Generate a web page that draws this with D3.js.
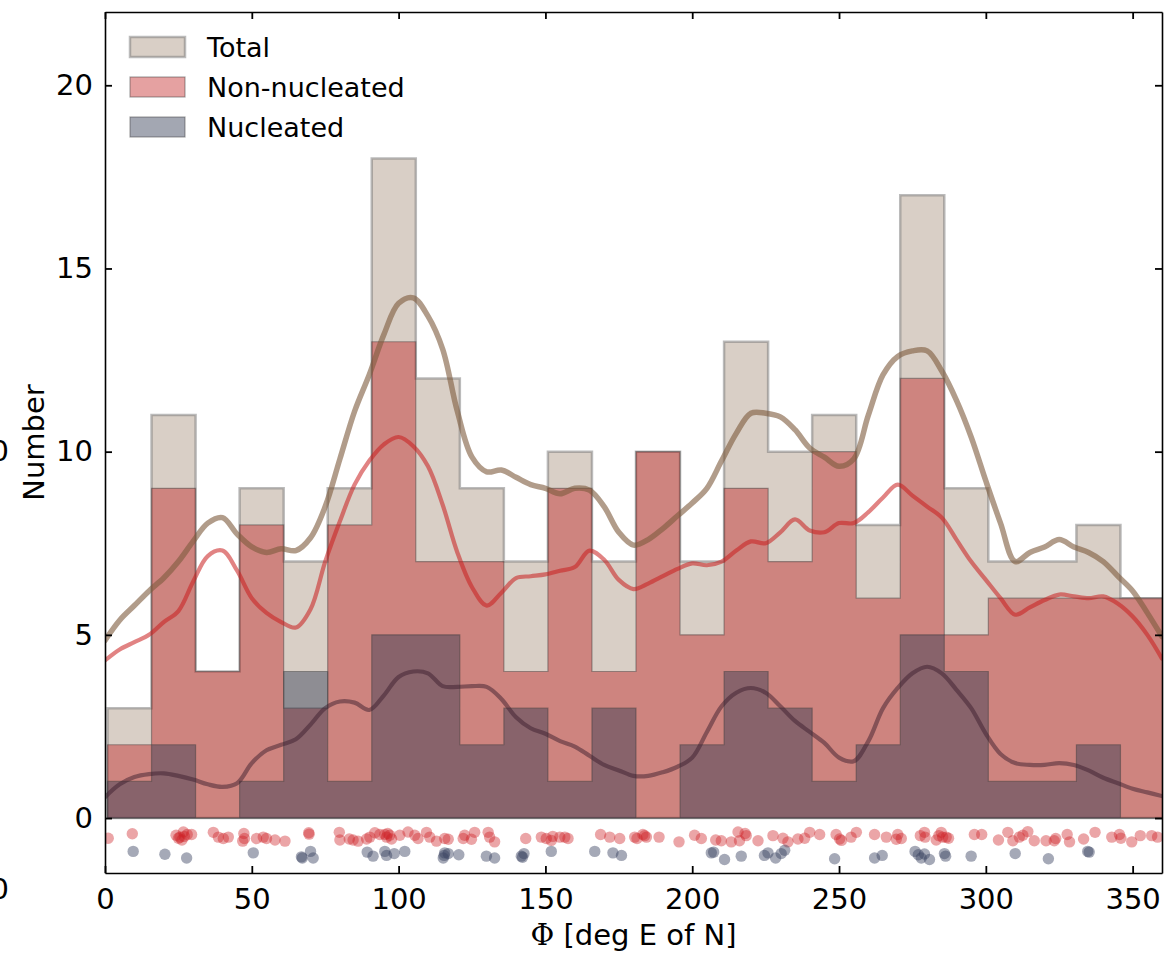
<!DOCTYPE html>
<html>
<head>
<meta charset="utf-8">
<script src="https://cdn.jsdelivr.net/npm/d3@7"></script>
<style>
  body { margin: 0; background: #fff; }
  svg { display: block; }
  text { font-family: "DejaVu Sans", sans-serif; fill: #000; }
</style>
</head>
<body>
<svg id="chart" width="1167" height="957"></svg>
<script>
// ---- histogram counts, 15-degree bins ----
const binStarts = [0.85, 15.85, 30.85, 45.85, 60.85, 75.85, 90.85, 105.85, 120.85, 135.85, 150.85, 165.85,
                   180.85, 195.85, 210.85, 225.85, 240.85, 255.85, 270.85, 285.85, 300.85, 315.85, 330.85, 345.85];
const binWidth = 15;
const totalCounts   = [3, 11, 4, 9, 7, 9, 18, 12, 9, 7, 10, 7, 10, 7, 13, 10, 11, 8, 17, 9, 7, 7, 8, 6];
const nonNucCounts  = [2, 9, 4, 8, 3, 8, 13, 7, 7, 4, 9, 4, 10, 5, 9, 7, 10, 6, 12, 5, 6, 6, 6, 6];
const nucCounts     = [1, 2, 0, 1, 4, 1, 5, 5, 2, 3, 1, 3, 0, 2, 4, 3, 1, 2, 5, 4, 1, 1, 2, 0];

// ---- smoothed density curves (in counts per bin), sampled every 5 degrees ----
const curvePhi = [0, 5, 10, 15, 20, 25, 30, 35, 40, 45, 50, 55, 60, 65, 70, 75, 80, 85, 90, 95,
  100, 105, 110, 115, 120, 125, 130, 135, 140, 145, 150, 155, 160, 165, 170, 175, 180, 185, 190, 195,
  200, 205, 210, 215, 220, 225, 230, 235, 240, 245, 250, 255, 260, 265, 270, 275, 280, 285, 290, 295,
  300, 305, 310, 315, 320, 325, 330, 335, 340, 345, 350, 355, 360];
const totalCurve = [4.85, 5.4, 5.8, 6.2, 6.55, 7.0, 7.55, 8.05, 8.2, 7.75,
  7.4, 7.25, 7.35, 7.3, 7.65, 8.5, 9.8, 11.1, 12.1, 13.2,
  14.05, 14.2, 13.7, 12.8, 11.1, 9.85, 9.45, 9.5, 9.3, 9.1,
  9.0, 8.85, 9.0, 8.95, 8.5, 7.8, 7.45, 7.6, 7.9, 8.25,
  8.6, 9.0, 9.75, 10.5, 11.05, 11.05, 10.95, 10.6, 10.1, 9.85,
  9.6, 9.8, 11.0, 12.1, 12.6, 12.75, 12.75, 12.2, 11.4, 10.4,
  9.2, 8.05, 7.0, 7.25, 7.4, 7.6, 7.4, 7.25, 7.0, 6.6,
  6.2, 5.6, 4.95];
const nonNucCurve = [4.3, 4.6, 4.8, 5.0, 5.35, 5.65, 6.45, 7.15, 7.3, 6.75,
  6.0, 5.6, 5.35, 5.2, 5.7, 7.0, 8.1, 9.1, 9.75, 10.2,
  10.4, 10.15, 9.6, 8.55, 7.25, 6.3, 5.8, 6.15, 6.55, 6.6,
  6.65, 6.75, 6.85, 7.3, 7.05, 6.5, 6.25, 6.4, 6.6, 6.8,
  6.95, 6.9, 7.0, 7.3, 7.55, 7.5, 7.8, 8.15, 7.85, 7.8,
  8.05, 8.05, 8.35, 8.75, 9.1, 8.8, 8.5, 8.2, 7.6, 7.0,
  6.5, 6.0, 5.55, 5.75, 5.95, 6.1, 6.05, 6.0, 6.05, 5.85,
  5.5, 5.0, 4.35];
const nucCurve = [0.57, 0.92, 1.12, 1.2, 1.22, 1.15, 1.05, 0.92, 0.85, 0.95,
  1.5, 1.85, 2.0, 2.15, 2.55, 3.0, 3.18, 3.15, 2.95, 3.35,
  3.85, 4.0, 3.95, 3.6, 3.58, 3.6, 3.58, 3.25, 2.75, 2.45,
  2.3, 2.1, 1.95, 1.7, 1.45, 1.3, 1.15, 1.15, 1.25, 1.4,
  1.65, 2.35, 3.05, 3.42, 3.55, 3.42, 3.05, 2.65, 2.35, 2.05,
  1.65, 1.55, 2.1, 3.0, 3.55, 3.95, 4.13, 3.95, 3.5, 3.0,
  2.3, 1.75, 1.5, 1.45, 1.45, 1.5, 1.45, 1.3, 1.1, 0.95,
  0.8, 0.7, 0.6];

// ---- individual position angles, [phi, vertical jitter] ----
const nonNucPoints = [
  [1.1,-0.55],[9.3,-0.43],[24.2,-0.47],[25.5,-0.52],[26.7,-0.38],[26.2,-0.6],[28.0,-0.45],[29.5,-0.45],[25.0,-0.55],[27.0,-0.5],
  [36.9,-0.39],[38.6,-0.52],[40.3,-0.56],[42.0,-0.52],[47.3,-0.42],[46.9,-0.63],[47.5,-0.56],[51.6,-0.56],[53.9,-0.52],[55.0,-0.56],
  [57.9,-0.6],[61.3,-0.63],[69.4,-0.4],[69.5,-0.44],[79.8,-0.39],[80.0,-0.6],[83.2,-0.57],[84.5,-0.6],[86.2,-0.63],[89.1,-0.57],
  [90.2,-0.52],[91.9,-0.4],[93.6,-0.45],[95.3,-0.45],[95.9,-0.52],[96.3,-0.42],[97.0,-0.47],[97.6,-0.57],[100.4,-0.47],[103.2,-0.38],
  [105.5,-0.47],[106.6,-0.56],[109.5,-0.39],[110.6,-0.52],[112.9,-0.63],[115.7,-0.56],[116.9,-0.58],[122.0,-0.56],[122.5,-0.47],[124.8,-0.58],
  [125.9,-0.39],[130.5,-0.39],[131.0,-0.52],[132.7,-0.65],[143.3,-0.56],[148.6,-0.52],[150.3,-0.56],[152.0,-0.61],[152.5,-0.5],[154.9,-0.52],
  [156.6,-0.52],[157.7,-0.56],[168.8,-0.45],[171.9,-0.52],[175.3,-0.56],
  [180.4,-0.52],[181.2,-0.56],[183.2,-0.45],[184.4,-0.52],[183.8,-0.48],[188.7,-0.52],[195.5,-0.65],[200.8,-0.47],[203.1,-0.56],[208.0,-0.6],
  [209.9,-0.62],[213.3,-0.65],[215.6,-0.38],[216.1,-0.62],[218.4,-0.48],[218.0,-0.42],[222.4,-0.62],[227.5,-0.48],[230.9,-0.55],[232.6,-0.65],
  [236.0,-0.57],[238.3,-0.55],[240.0,-0.39],[243.4,-0.45],[249.0,-0.45],[250.2,-0.57],[250.8,-0.61],[254.1,-0.52],[255.9,-0.39],[262.1,-0.45],
  [266.1,-0.52],[269.5,-0.58],
  [270.0,-0.45],[271.2,-0.56],[277.7,-0.48],[279.1,-0.39],[279.3,-0.52],[283.1,-0.6],[284.8,-0.39],[285.3,-0.52],[286.5,-0.52],[287.3,-0.55],
  [284.0,-0.48],[296.1,-0.45],[298.6,-0.45],[304.3,-0.6],[307.5,-0.39],[309.2,-0.62],[311.4,-0.52],[312.6,-0.47],[314.3,-0.37],[316.5,-0.62],
  [320.5,-0.62],[323.3,-0.62],[323.8,-0.56],[327.7,-0.45],[328.5,-0.65],[333.3,-0.57],[337.2,-0.39],[342.9,-0.52],[345.5,-0.45],[346.0,-0.55],
  [349.7,-0.65],[352.6,-0.48],[356.5,-0.48],[358.5,-0.52]
];
const nucPoints = [
  [9.6,-0.91],[20.4,-0.99],[27.8,-1.09],[50.5,-0.95],[66.9,-1.06],[67.2,-1.09],[70.0,-0.91],[70.9,-1.09],[89.3,-0.93],[91.3,-1.04],
  [95.3,-0.91],[95.9,-1.02],[98.5,-0.97],[102.1,-0.91],[115.2,-1.09],[115.5,-1.02],[115.7,-0.95],[116.9,-0.97],[120.5,-1.0],[129.9,-1.04],
  [132.7,-1.09],[141.8,-1.04],[142.7,-0.97],[142.2,-1.07],[152.0,-0.91],[166.8,-0.91],[173.0,-0.95],[175.9,-1.02],[206.5,-0.95],[207.3,-0.93],
  [211.0,-1.13],[216.7,-1.04],[224.6,-1.02],[225.8,-0.95],[228.4,-1.09],[230.3,-0.97],[231.5,-0.88],[248.5,-1.11],[262.1,-1.09],[264.7,-1.02],
  [275.9,-0.91],[278.0,-1.09],[279.1,-0.98],[280.8,-1.13],[277.0,-1.0],[285.9,-0.97],[286.3,-1.04],[295.0,-1.04],[310.0,-0.97],[321.3,-1.11],
  [334.7,-0.91],[335.2,-0.93]
];

// ---- axis ticks and labels ----
const xTicks = [0, 50, 100, 150, 200, 250, 300, 350];
const yTicks = [0, 5, 10, 15, 20];
const legendLabels = ["Total", "Non-nucleated", "Nucleated"];

// ---- layout ----
const plot = { left: 105, right: 1162, top: 12, bottom: 873 };
const svg = d3.select("#chart");

const x = d3.scaleLinear().domain([0, 360]).range([plot.left, plot.right]);
const y = d3.scaleLinear().domain([-1.5, 22]).range([plot.bottom, plot.top]);

svg.append("defs").append("clipPath").attr("id", "plotClip")
  .append("rect")
  .attr("x", plot.left).attr("y", plot.top)
  .attr("width", plot.right - plot.left).attr("height", plot.bottom - plot.top);

const styles = {
  total:  { fill: "rgb(217,207,198)", fillOpacity: 1,    stroke: "rgba(120,120,120,0.5)", strokeWidth: 2.5 },
  nonNuc: { fill: "rgb(190,20,20)",   fillOpacity: 0.4,  stroke: "rgba(60,60,60,0.45)",   strokeWidth: 1.2 },
  nuc:    { fill: "rgb(50,60,85)",    fillOpacity: 0.45, stroke: "rgba(60,60,60,0.45)",   strokeWidth: 1.2 }
};

const g = svg.append("g").attr("clip-path", "url(#plotClip)");

// step-filled histograms
const stepArea = d3.area()
  .curve(d3.curveStepAfter)
  .x(d => x(d[0]))
  .y0(y(0))
  .y1(d => y(d[1]));

function histPoints(counts) {
  const pts = counts.map((c, i) => [binStarts[i], c]);
  pts.push([binStarts[binStarts.length - 1] + binWidth, counts[counts.length - 1]]);
  return pts;
}

[[totalCounts, styles.total], [nonNucCounts, styles.nonNuc], [nucCounts, styles.nuc]].forEach(([counts, s]) => {
  g.append("path")
    .attr("d", stepArea(histPoints(counts)))
    .attr("fill", s.fill)
    .attr("fill-opacity", s.fillOpacity)
    .attr("stroke", s.stroke)
    .attr("stroke-width", s.strokeWidth)
    .attr("stroke-linejoin", "miter");
});

// smoothed curves
const line = d3.line()
  .curve(d3.curveCatmullRom.alpha(0.5))
  .x((d, i) => x(curvePhi[i]))
  .y(d => y(d));

g.append("path").datum(totalCurve).attr("d", line)
  .attr("fill", "none").attr("stroke", "rgb(125,90,60)").attr("stroke-opacity", 0.6)
  .attr("stroke-width", 5.5).attr("stroke-linejoin", "round").attr("stroke-linecap", "round");
g.append("path").datum(nonNucCurve).attr("d", line)
  .attr("fill", "none").attr("stroke", "rgb(200,30,30)").attr("stroke-opacity", 0.55)
  .attr("stroke-width", 4.2).attr("stroke-linejoin", "round").attr("stroke-linecap", "round");
g.append("path").datum(nucCurve).attr("d", line)
  .attr("fill", "none").attr("stroke", "rgb(60,30,45)").attr("stroke-opacity", 0.5)
  .attr("stroke-width", 4.2).attr("stroke-linejoin", "round").attr("stroke-linecap", "round");

// individual angles as a rug of dots below zero
g.append("g").selectAll("circle").data(nonNucPoints).join("circle")
  .attr("cx", d => x(d[0])).attr("cy", d => y(d[1])).attr("r", 5.7)
  .attr("fill", "rgb(205,30,35)").attr("fill-opacity", 0.4);
g.append("g").selectAll("circle").data(nucPoints).join("circle")
  .attr("cx", d => x(d[0])).attr("cy", d => y(d[1])).attr("r", 5.7)
  .attr("fill", "rgb(55,65,95)").attr("fill-opacity", 0.45);

// axes with inward ticks on all four sides
function styleAxis(sel) {
  sel.select(".domain").attr("stroke", "#000").attr("stroke-width", 1.6);
  sel.selectAll(".tick line").attr("stroke", "#000").attr("stroke-width", 1.8);
  sel.selectAll(".tick text").style("font-family", '"DejaVu Sans", sans-serif').style("font-size", "29px").attr("fill", "#000");
}

svg.append("g").attr("transform", `translate(0,${plot.bottom})`)
  .call(d3.axisBottom(x).tickValues(xTicks).tickSizeInner(-7).tickSizeOuter(0).tickPadding(15).tickFormat(d3.format("d")))
  .call(styleAxis);
svg.append("g").attr("transform", `translate(0,${plot.top})`)
  .call(d3.axisTop(x).tickValues(xTicks).tickSizeInner(-7).tickSizeOuter(0).tickFormat(""))
  .call(styleAxis);
svg.append("g").attr("transform", `translate(${plot.left},0)`)
  .call(d3.axisLeft(y).tickValues(yTicks).tickSizeInner(-7).tickSizeOuter(0).tickPadding(12).tickFormat(d3.format("d")))
  .call(styleAxis);
svg.append("g").attr("transform", `translate(${plot.right},0)`)
  .call(d3.axisRight(y).tickValues(yTicks).tickSizeInner(-7).tickSizeOuter(0).tickFormat(""))
  .call(styleAxis);

// axis titles
const xTitle = svg.append("text")
  .attr("x", (plot.left + plot.right) / 2).attr("y", 945)
  .attr("text-anchor", "middle").style("font-size", "29px");
xTitle.append("tspan").style("font-family", '"DejaVu Serif", serif').text("Φ");
xTitle.append("tspan").text(" [deg E of N]");

svg.append("text")
  .attr("transform", `translate(44,${(plot.top + plot.bottom) / 2}) rotate(-90)`)
  .attr("text-anchor", "middle").style("font-size", "29px")
  .text("Number");

// neighbouring panel labels at the left edge of the figure
svg.append("text").attr("x", 9).attr("y", 461).attr("text-anchor", "end").style("font-size", "29px").text("10");
svg.append("text").attr("x", 9).attr("y", 899).attr("text-anchor", "end").style("font-size", "29px").text("0");

// legend
const legendStyles = [styles.total, styles.nonNuc, styles.nuc];
const legend = svg.append("g");
legendLabels.forEach((label, i) => {
  const s = legendStyles[i];
  const yy = 37 + i * 40;
  legend.append("rect")
    .attr("x", 130).attr("y", yy).attr("width", 55).attr("height", 20)
    .attr("fill", s.fill).attr("fill-opacity", s.fillOpacity)
    .attr("stroke", s.stroke).attr("stroke-width", s.strokeWidth);
  legend.append("text")
    .attr("x", 207).attr("y", yy + 20)
    .style("font-size", "27px")
    .text(label);
});
</script>
</body>
</html>
